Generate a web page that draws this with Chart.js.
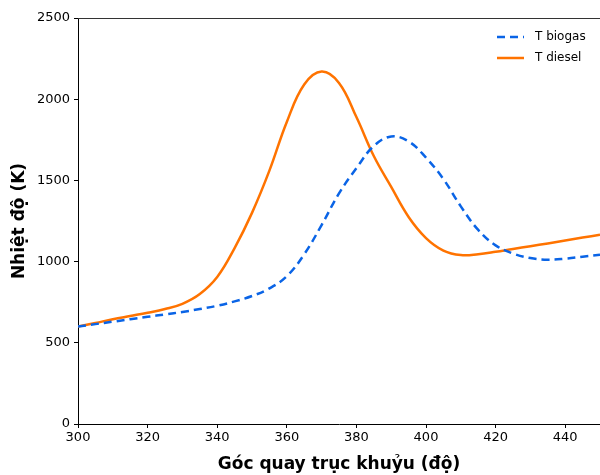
<!DOCTYPE html>
<html>
<head>
<meta charset="utf-8">
<script src="https://cdn.jsdelivr.net/npm/chart.js@4/dist/chart.umd.min.js"></script>
<style>
  html, body { margin: 0; padding: 0; background: #fff; }
  #wrap { width: 600px; height: 475px; }
</style>
</head>
<body>
<div id="wrap"><canvas id="tempChart" width="600" height="475"></canvas></div>
<script>
// crank angle (deg) and temperatures (K)
const angles = [300, 305, 310, 315, 320, 325, 330, 335, 340, 345, 350, 355, 360, 365, 370, 375,
                380, 385, 390, 395, 400, 405, 410, 415, 420, 425, 430, 435, 440, 445, 450];
const tBiogas = [600, 615, 630, 645, 660, 675, 690, 708, 728, 755, 788, 835, 910, 1045, 1225, 1420,
                 1575, 1712, 1770, 1740, 1640, 1508, 1340, 1195, 1100, 1050, 1022, 1012, 1018, 1030, 1042];
const tDiesel = [600, 622, 645, 665, 685, 708, 740, 800, 905, 1083, 1300, 1560, 1860, 2090, 2170, 2100,
                 1890, 1650, 1460, 1275, 1145, 1068, 1040, 1045, 1060, 1078, 1095, 1112, 1130, 1148, 1165];
const xTicks = [300, 320, 340, 360, 380, 400, 420, 440];

const toPoints = (ys) => angles.map((a, i) => ({ x: a, y: ys[i] }));

// top spine + legend inside the plot, matplotlib style
const framePlugin = {
    id: 'frame',
    afterDraw(chart) {
        const ctx = chart.ctx;
        const area = chart.chartArea;
        ctx.save();
        ctx.strokeStyle = '#333';
        ctx.lineWidth = 1;
        ctx.beginPath();
        ctx.moveTo(area.left, area.top + 0.5);
        ctx.lineTo(area.right, area.top + 0.5);
        ctx.stroke();

        const items = chart.data.datasets;
        ctx.font = '12px "DejaVu Sans"';
        ctx.textBaseline = 'middle';
        items.forEach((ds, i) => {
            const y = 37 + i * 21;
            ctx.strokeStyle = ds.borderColor;
            ctx.lineWidth = ds.borderWidth;
            ctx.setLineDash(ds.borderDash || []);
            ctx.beginPath();
            ctx.moveTo(497, y);
            ctx.lineTo(524, y);
            ctx.stroke();
            ctx.setLineDash([]);
            ctx.fillStyle = '#000';
            ctx.fillText(ds.label, 535, y);
        });
        ctx.restore();
    }
};

const ctx = document.getElementById('tempChart').getContext('2d');
new Chart(ctx, {
    type: 'line',
    data: {
        datasets: [{
            label: 'T biogas',
            data: toPoints(tBiogas),
            borderColor: '#0a64e6',
            borderWidth: 2.5,
            borderDash: [8, 5],
            pointRadius: 0,
            tension: 0.4,
            fill: false
        }, {
            label: 'T diesel',
            data: toPoints(tDiesel),
            borderColor: '#ff7300',
            borderWidth: 2.5,
            pointRadius: 0,
            tension: 0.4,
            fill: false
        }]
    },
    options: {
        responsive: false,
        animation: false,
        layout: { padding: { top: 18, right: 0, left: 0, bottom: 0 } },
        plugins: {
            legend: { display: false },
            tooltip: { enabled: false }
        },
        scales: {
            x: {
                type: 'linear',
                min: 300,
                max: 450,
                afterBuildTicks: (axis) => { axis.ticks = xTicks.map(v => ({ value: v })); },
                afterFit: (axis) => { axis.height = 51; },
                grid: { drawOnChartArea: false, tickLength: 4, tickColor: '#000' },
                border: { color: '#000', width: 1 },
                ticks: {
                    color: '#000',
                    font: { family: 'DejaVu Sans', size: 13 },
                    padding: 2,
                    maxRotation: 0,
                    callback: (v) => String(v)
                },
                title: {
                    display: true,
                    text: 'Góc quay trục khuỷu (độ)',
                    color: '#000',
                    font: { family: 'DejaVu Sans', size: 17, weight: 'bold' },
                    padding: { top: 1, bottom: 0 }
                }
            },
            y: {
                min: 0,
                max: 2500,
                ticks: {
                    stepSize: 500,
                    color: '#000',
                    font: { family: 'DejaVu Sans', size: 13 },
                    padding: 4,
                    callback: (v) => String(v)
                },
                afterFit: (axis) => { axis.width = 78; },
                grid: { drawOnChartArea: false, tickLength: 4, tickColor: '#000' },
                border: { color: '#000', width: 1 },
                title: {
                    display: true,
                    text: 'Nhiệt độ (K)',
                    color: '#000',
                    font: { family: 'DejaVu Sans', size: 17, weight: 'bold' },
                    padding: { top: 9, bottom: 0 }
                }
            }
        }
    },
    plugins: [framePlugin]
});
</script>
</body>
</html>
